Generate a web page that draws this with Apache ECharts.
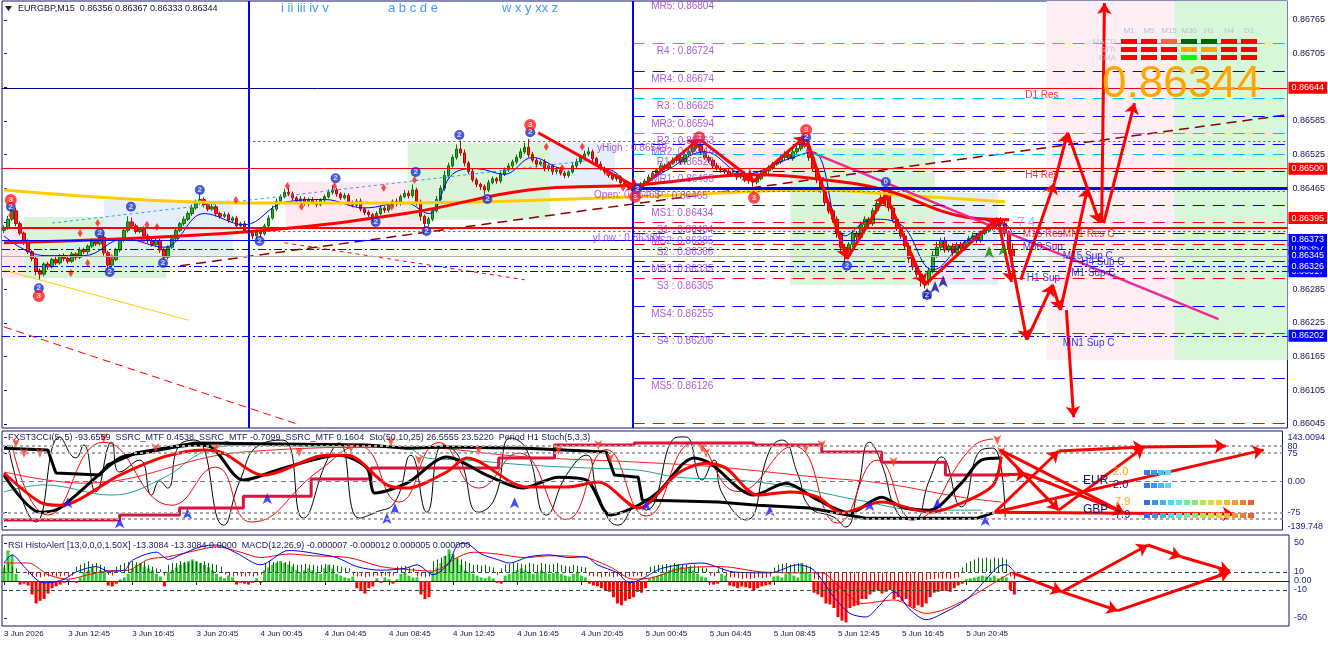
<!DOCTYPE html>
<html>
<head>
<meta charset="utf-8">
<title>EURGBP M15</title>
<script src="https://cdn.jsdelivr.net/npm/echarts@6.0.0/dist/echarts.min.js"></script>
<style>
  html, body { margin: 0; padding: 0; background: #fff; }
  #chart { width: 1328px; height: 646px; }
</style>
</head>
<body>
<div id="chart"></div>
<script>
// M15 bars starting 3 Jun 08:45, one row = 4 hours
const firstOpen = 0.86390;
const closes = [
  0.86395,0.86410,0.86425,0.86402,0.86385,0.86370,0.86352,0.86340,0.86318,0.86312,0.86330,0.86325,0.86338,0.86332,0.86345,0.86340,
  0.86335,0.86348,0.86342,0.86355,0.86352,0.86362,0.86370,0.86366,0.86378,0.86350,0.86328,0.86338,0.86355,0.86372,0.86390,0.86405,
  0.86398,0.86388,0.86392,0.86380,0.86372,0.86365,0.86372,0.86355,0.86342,0.86360,0.86375,0.86390,0.86402,0.86410,0.86420,0.86430,
  0.86440,0.86445,0.86436,0.86428,0.86432,0.86420,0.86415,0.86418,0.86408,0.86412,0.86398,0.86402,0.86390,0.86385,0.86380,0.86388,
  0.86384,0.86398,0.86412,0.86428,0.86442,0.86450,0.86458,0.86455,0.86448,0.86442,0.86446,0.86438,0.86445,0.86440,0.86436,0.86444,
  0.86450,0.86458,0.86462,0.86455,0.86448,0.86452,0.86440,0.86435,0.86442,0.86428,0.86422,0.86418,0.86412,0.86420,0.86430,0.86426,
  0.86435,0.86442,0.86438,0.86450,0.86456,0.86452,0.86462,0.86440,0.86415,0.86402,0.86410,0.86425,0.86445,0.86465,0.86488,0.86505,
  0.86520,0.86535,0.86528,0.86510,0.86495,0.86480,0.86472,0.86468,0.86462,0.86475,0.86482,0.86478,0.86490,0.86498,0.86505,0.86512,
  0.86520,0.86530,0.86538,0.86525,0.86515,0.86508,0.86512,0.86500,0.86505,0.86495,0.86498,0.86492,0.86488,0.86494,0.86505,0.86512,
  0.86520,0.86526,0.86530,0.86518,0.86508,0.86500,0.86495,0.86488,0.86482,0.86485,0.86475,0.86470,0.86466,0.86460,0.86465,0.86472,
  0.86478,0.86485,0.86492,0.86498,0.86505,0.86502,0.86510,0.86515,0.86520,0.86512,0.86525,0.86530,0.86538,0.86542,0.86530,0.86520,
  0.86515,0.86505,0.86500,0.86498,0.86495,0.86490,0.86492,0.86485,0.86488,0.86480,0.86478,0.86476,0.86482,0.86490,0.86496,0.86502,
  0.86508,0.86512,0.86520,0.86525,0.86518,0.86530,0.86536,0.86545,0.86540,0.86520,0.86500,0.86480,0.86462,0.86440,0.86425,0.86410,
  0.86385,0.86360,0.86345,0.86365,0.86385,0.86378,0.86400,0.86410,0.86402,0.86425,0.86438,0.86448,0.86455,0.86430,0.86410,0.86395,
  0.86380,0.86362,0.86340,0.86325,0.86312,0.86300,0.86298,0.86318,0.86345,0.86360,0.86372,0.86355,0.86362,0.86350,0.86365,0.86358,
  0.86368,0.86375,0.86380,0.86372,0.86385,0.86390,0.86395,0.86400,0.86408,0.86402,0.86385,0.86356,0.86344
];
// upper / lower wick length in points beyond the body
const wickHi = [
  4,6,10,5,4,3,4,3,5,4,3,4,3,5,3,4, 3,4,3,5,4,3,6,4,8,5,4,3,4,5,6,10,
  8,4,3,5,4,3,4,3,4,3,5,4,3,5,4,6, 5,10,4,3,5,4,3,5,4,3,4,3,5,4,3,4,
  3,4,5,6,5,4,6,8,4,3,5,4,3,4,5,3, 4,5,8,4,3,5,4,3,4,5,3,4,3,4,5,4,
  4,3,5,4,6,5,10,4,5,3,4,5,6,5,8,6, 5,8,15,6,4,5,4,3,4,5,4,3,5,4,5,4,
  5,6,8,15,5,4,3,5,4,3,4,5,4,3,5,6, 5,6,8,4,3,5,4,3,4,5,3,4,3,4,3,4,
  4,5,4,3,5,4,3,5,6,4,5,4,6,8,5,4, 4,3,5,4,3,4,5,3,4,3,4,3,5,4,3,4,
  4,3,5,6,4,5,6,8,15,4,3,5,4,6,5,4, 5,4,6,4,5,4,6,5,4,5,6,5,8,5,4,5,
  4,5,6,4,3,5,4,6,8,10,5,6,4,5,4,5, 4,5,6,4,5,6,5,4,5,6,8,5,11
];
const wickLo = [
  5,4,3,5,4,6,4,5,8,10,4,5,3,4,3,5, 4,3,5,3,4,5,3,4,3,5,8,4,3,4,3,4,
  5,4,3,4,5,4,3,5,8,4,3,4,3,4,3,4, 3,4,5,4,3,5,4,3,5,4,3,6,4,5,6,5,
  6,3,4,3,4,5,3,4,5,4,3,4,5,3,4,3, 4,3,4,5,4,3,5,4,3,4,5,4,8,4,3,5,
  4,3,5,4,3,5,4,6,8,12,5,4,3,4,5,4, 3,4,5,6,5,4,5,6,8,4,3,5,4,3,4,5,
  4,3,4,5,4,6,3,5,4,6,5,4,5,4,3,4, 4,3,4,5,4,3,5,4,3,5,4,3,4,5,8,4,
  3,4,5,4,3,5,4,3,4,5,4,3,4,3,5,4, 5,4,3,5,4,3,4,5,3,4,5,8,4,3,4,5,
  4,3,4,5,3,4,5,4,3,6,5,6,5,6,5,6, 8,10,15,6,5,8,4,5,6,4,5,4,3,6,5,6,
  5,6,8,6,5,10,12,6,5,4,6,5,4,5,6,4, 5,4,3,5,4,3,4,5,4,5,6,8,11
];

const timeTicks = ['3 Jun 2026','3 Jun 12:45','3 Jun 16:45','3 Jun 20:45','4 Jun 00:45','4 Jun 04:45',
  '4 Jun 08:45','4 Jun 12:45','4 Jun 16:45','4 Jun 20:45','5 Jun 00:45','5 Jun 04:45','5 Jun 08:45',
  '5 Jun 12:45','5 Jun 16:45','5 Jun 20:45'];
const timeTickBars = [0,16,32,48,64,80,96,112,128,144,160,176,192,208,224,240];
const priceTicks = [0.86045,0.86105,0.86165,0.86225,0.86285,0.86345,0.86405,0.86465,0.86525,0.86585,0.86645,0.86705,0.86765];
const sub1TickVals = [125.7, 100, 80, 0, -88.6, -105.7, -128.6];
const sub1TickText = ['143.0094', '80', '75', '0.00', '-75', '-80', '-139.748'];
const sub2TickVals = [42.2, 10, 0, -10, -41.1];
const sub2TickText = ['50', '10', '0.00', '-10', '-50'];

// daily pivots
const pivotNames = ['MR5','R4','MR4','R3','MR3','R2','MR2','R1','MR1','P','MS1','S1','MS2','S2','MS3','S3','MS4','S4','MS5','S5'];
const pivotPrices = [0.86804,0.86724,0.86674,0.86625,0.86594,0.86563,0.86544,0.86525,0.86495,0.86465,
  0.86434,0.86404,0.86385,0.86366,0.86335,0.86305,0.86255,0.86206,0.86126,0.86046];

// other horizontal lines: [price, colour, dash, width, fromBar, toBar]
const levels = [
  [0.86644, '#000080', 'solid', 1, -0.5, 157],
  [0.86644, '#ff0000', 'solid', 1, 157, 320.5],
  [0.86500, '#ff0000', 'solid', 1, -0.5, 320.5],
  [0.86549, '#555555', 'dot', 1, 61, 320.5],
  [0.86459, '#8b3a8b', 'dot', 1, 157, 320.5],
  [0.86395, '#ff0000', 'solid', 2, -0.5, 320.5],
  [0.86389, '#555555', 'dot', 1, 61, 320.5],
  [0.86373, '#0000ff', 'solid', 1, -0.5, 320.5],
  [0.86357, '#0000ff', 'dashdot', 1, -0.5, 320.5],
  [0.86344, '#b0b0b0', 'solid', 1, -0.5, 320.5],
  [0.86326, '#0000ff', 'dashdot', 1, -0.5, 320.5],
  [0.86317, '#0000ff', 'dashdot', 1, -0.5, 320.5],
  [0.86202, '#0000ff', 'dashdot', 1, -0.5, 320.5]
];
const daySeparators = [61, 157];

// price tags on the scale: [price, colour, price where the tag is shown (pushed up when crowded)]
const tags = [
  [0.86644, '#ff0000', 0.86644], [0.86500, '#ff0000', 0.86500], [0.86395, '#ff0000', 0.86412],
  [0.86357, '#0000ff', 0.86357], [0.86373, '#0000ff', 0.86373], [0.86345, '#0000ff', 0.86345],
  [0.86317, '#0000ff', 0.86317], [0.86326, '#0000ff', 0.86326], [0.86202, '#0000ff', 0.86202]
];

// shaded boxes: [fromBar, toBar, top, bottom, colour]
const zones = [
  [-0.5, 5, 0.86396, 0.86305, '#fde9ef'],
  [5, 40.6, 0.86414, 0.86305, '#d9f4d9'],
  [25, 57.1, 0.86444, 0.86343, '#e6eefa'],
  [70.3, 103.8, 0.86476, 0.86391, '#fde9ef'],
  [100.8, 136.4, 0.86546, 0.86409, '#d9f4d9'],
  [136.4, 152.6, 0.86546, 0.86467, '#e6eefa'],
  [173.8, 196.3, 0.86539, 0.86492, '#fde9ef'],
  [196.3, 232.5, 0.86537, 0.86293, '#d9f4d9'],
  [232.5, 248.2, 0.86457, 0.86293, '#e6eefa'],
  [260.4, 292.3, 0.867988, 0.86159, '#ffeef3'],
  [292.3, 320.5, 0.867988, 0.86159, '#d8f7d8']
];

// moving averages / trend lines on the price chart: [bar, price]
const maYellow = [[0,0.86462],[60,0.86439],[101,0.86439],[158,0.86450],[204,0.86462],[224,0.86453],[250,0.86441]];
const maRed = [[0,0.86368],[60,0.86387],[101,0.86421],[131,0.86462],[158,0.86471],[187,0.86489],[205,0.86480],[220,0.86462],[240,0.86414],[251,0.86409]];
const maBlue = [[0,0.86380],[10,0.86345],[20,0.86345],[30,0.86375],[40,0.86360],[50,0.86420],[60,0.86400],[70,0.86440],
  [80,0.86445],[90,0.86430],[100,0.86440],[106,0.86420],[112,0.86490],[118,0.86500],[125,0.86490],[132,0.86520],
  [140,0.86500],[150,0.86500],[158,0.86470],[165,0.86495],[175,0.86530],[185,0.86490],[195,0.86515],[202,0.86530],
  [210,0.86380],[217,0.86410],[224,0.86400],[232,0.86320],[240,0.86370],[250,0.86400],[252,0.86380]];
const trendBrown = [[44,0.86327],[320.5,0.86596]];
const trendPink = [[200.3,0.86533],[303.3,0.86232]];
const trendRedDash = [[0,0.86218],[74,0.86043]];
const trendYellow = [[0,0.86319],[46,0.86230]];
const trendRedShort = [[70,0.86368],[130,0.86302]];
const trendBlueDot = [[12,0.86403],[146.6,0.86515]];

// fractal marks above highs
const fractals = [[1.7,0.86417],[19,0.86385],[23.4,0.86403],[31.7,0.86400],[35.7,0.86400],[38.2,0.86396],[34.7,0.86373],
  [20.9,0.86332],[26.9,0.86341],[16.7,0.86314],[57.9,0.86444],[70.8,0.86469],[74.3,0.86432],[82.5,0.86469],[94.8,0.86466],
  [96.8,0.86432],[102.5,0.86480],[135.4,0.86539],[144.4,0.86539],[139.4,0.86501],[150.6,0.86494],[154.6,0.86466]];

// zigzag and projected wave arrows
const zigzag = [[133.4,0.86564],[158.6,0.86464],[173.6,0.86553],[187.3,0.86478],[200.2,0.86558],[210.5,0.86339],[220.2,0.86453],[229.9,0.86293],[248.1,0.86412]];
const projMain = [
  [[248.1,0.86412],[251.6,0.86298]], [[253.9,0.86302],[262.3,0.86475]], [[262.3,0.86475],[265.6,0.86564]],
  [[265.6,0.86564],[273.6,0.86403]], [[274.1,0.86403],[274.8,0.86795]], [[274.6,0.86403],[282.3,0.86617]],
  [[250.6,0.86373],[255.4,0.86195]], [[255.4,0.86195],[261.8,0.86293]], [[261.8,0.86293],[263.8,0.86248]],
  [[263.8,0.86248],[270.6,0.86466]], [[265.3,0.86248],[267.1,0.86057]]
];
const waveMarks = [
  [1.7,0.86432,'2'],[8.7,0.86287,'2'],[23.9,0.86385,'2'],[26.4,0.86316,'2'],[31.7,0.86432,'2'],[39.7,0.86332,'2'],
  [48.9,0.86462,'2'],[63.8,0.86371,'2'],[82.8,0.86483,'2'],[92.8,0.86405,'2'],[102.8,0.86494,'2'],[105.5,0.86389,'2'],
  [113.7,0.86560,'2'],[120.7,0.86446,'2'],[131.4,0.86565,'2'],[158.1,0.86464,'2'],[200.3,0.86556,'2'],[210.5,0.86327,'2'],
  [220.2,0.86476,'0'],[230.5,0.86275,'2'],
  [1.7,0.86444,'3'],[8.7,0.86273,'3'],[131.4,0.86578,'3'],[157.6,0.86450,'3'],[173.6,0.86556,'3'],[187.3,0.86448,'3'],[200.3,0.86569,'3']
];
const srLabels = [
  [255, 0.86644, 'D1 Res', '#ff0000'], [255, 0.86500, 'H4 Res', '#ff0000'],
  [254.4, 0.86395, 'M15 Res', '#ff0000'], [264.4, 0.86395, 'MN1 Res C', '#ff0000'],
  [254.4, 0.86373, 'M30 Sup', '#0000ff'], [264.4, 0.86357, 'M15 Sup C', '#0000ff'],
  [269, 0.86345, 'H4 Sup C', '#0000ff'], [266.5, 0.86326, 'M1 Sup C', '#0000ff'],
  [255.4, 0.86317, 'H1 Sup', '#0000ff'], [264.4, 0.86202, 'MN1 Sup C', '#0000ff'],
  [148.1, 0.86549, 'yHigh : 0.86549', '#9933cc'], [147.3, 0.86465, 'Open: 0.86465', '#9933cc'],
  [147, 0.86389, 'yLow : 0.86389', '#9933cc']
];
const mainUpArrows = [[230.5,0.86288,'#0a0aa0'],[232.5,0.86300,'#0a0aa0'],[234.5,0.86310,'#0a0aa0'],[246,0.86362,'#0a8a0a'],[249.5,0.86366,'#0a8a0a']];

// FXST3CCI / SSRC / Stoch window: [bar, value]
const crimsonStep = [[0,-111],[29,-97],[44,-77],[60,-43],[77,6],[92,37],[124,66],[138,103],[158,109],[188,103],[205,83],[220,54],[236,17],[252,17]];
const blackThick = [[0,17],[9,-89],[14,-77],[29,66],[35,80],[48,103],[52,97],[60,3],[70,37],[84,74],[91,37],[93,-34],[101,-6],[111,69],
  [121,17],[130,-20],[139,11],[146,3],[152,-97],[159,-69],[164,-31],[173,66],[177,51],[188,-40],[196,-6],[204,-54],[212,-91],
  [220,-46],[225,-74],[232,-83],[240,-6],[245,60],[250,66]];
const blackStep = [[0,94],[11,89],[13,23],[24,17],[26,46],[33,80],[48,109],[91,103],[101,94],[111,97],[131,94],[151,83],[153,17],
  [159,11],[160,-54],[179,-60],[189,-69],[202,-77],[216,-106],[244,-106],[248,-91]];
const redThick = [[0,23],[9,-60],[14,-69],[29,17],[40,69],[50,89],[55,80],[65,17],[81,74],[86,74],[96,-11],[101,-20],[111,26],[116,66],
  [131,-17],[141,-17],[149,-3],[159,-77],[169,23],[176,51],[181,37],[189,-40],[197,-31],[204,-46],[210,-91],[220,-60],[232,-89],
  [240,-63],[248,-11],[250,69]];
const thinBlack = [[1,103],[8,-117],[14,126],[18,66],[20,103],[23,-31],[27,111],[29,26],[34,60],[37,-40],[39,0],[41,-20],[44,103],
  [48,117],[55,-126],[59,-3],[64,103],[70,117],[75,-106],[81,60],[84,109],[89,-106],[93,-90],[98,-60],[102,74],[106,-89],[110,103],
  [114,70],[119,-89],[123,-50],[127,123],[131,90],[136,-97],[141,17],[146,74],[149,-40],[154,-126],[159,-69],[161,-83],[169,126],
  [171,126],[175,3],[178,60],[180,-34],[186,-111],[192,89],[195,117],[199,20],[202,-74],[208,-103],[211,-131],[214,-26],[217,111],
  [220,50],[224,-91],[228,-111],[232,3],[235,69],[240,-74],[245,89],[248,94],[251,-103]];
const thinRed = [[2,103],[11,-97],[25,111],[42,-69],[53,40],[62,-117],[79,30],[89,100],[99,-60],[109,110],[119,-20],[129,80],
  [141,-110],[151,90],[161,-100],[173,110],[184,-30],[198,100],[209,-120],[219,60],[228,-110],[243,100],[248,120]];
const teal = [[0,-31],[10,-11],[27,-40],[40,9],[50,83],[60,103],[81,97],[101,94],[106,66],[116,60],[131,46],[147,37],[159,31],
  [169,11],[184,3],[199,-20],[214,-54],[230,-83],[245,-83]];
const redLong = [[0,26],[20,-6],[60,83],[101,97],[131,69],[159,54],[179,40],[204,11],[220,-6],[240,-46],[250,-60]];
const blueUp = [[16,-46],[29,-103],[46,-77],[66,-34],[96,-91],[98,-63],[128,-46],[161,-54],[192,-69],[217,-54],[234,-49],[246,-97]];
const redDown = [[3,94],[5,66],[9,66],[25,109],[38,80],[53,80],[74,69],[87,80],[97,97],[104,46],[119,74],[139,74],[149,89],[152,51],
  [175,80],[176,66],[201,80],[205,89],[223,40],[249,103],[250,69]];
const sub1Levels = [100, 80, -91, -108];
const projSub1 = [
  [[249.7,89],[264.4,-83]], [[249.7,89],[280.8,-91]], [[248.4,-89],[264.4,86]], [[264.4,86],[285.8,97]],
  [[285.8,97],[306.3,100]], [[248.4,-89],[308.3,-94]], [[248.4,-89],[315.8,89]], [[248.4,17],[256.4,20]],
  [[256.4,20],[280.8,-91]], [[264.4,-83],[285.8,97]]
];

// RSI HistoAlert / MACD window
const histo = [
  15,34,29,8,-4,-3,-5,-15,-25,-22,-20,-14,-8,-6,-4,-2,
  2,0,-2,4,10,12,15,8,12,10,-5,-6,-3,2,4,8,
  14,18,20,16,14,12,8,5,-6,10,12,15,18,20,22,24,
  22,20,18,15,12,8,5,3,6,4,-4,-2,-3,-4,-2,3,
  -2,12,15,18,20,22,20,18,16,12,10,12,14,12,10,8,
  14,18,14,8,6,4,3,5,-8,-10,-14,-8,-6,3,-2,4,
  2,-3,2,8,10,6,4,4,-15,-20,-18,10,15,20,28,35,
  30,25,18,12,10,8,6,4,3,5,3,-2,-3,6,8,10,
  12,14,12,10,8,10,12,10,8,9,10,8,6,5,8,10,
  6,4,-3,-5,-6,-8,-10,-12,-18,-25,-27,-22,-20,-18,-12,-13,
  -8,3,5,6,8,10,12,14,18,16,14,15,12,8,5,4,
  -2,-4,-3,8,6,-5,-6,-8,-6,-7,-8,-10,-8,-6,-5,-4,
  5,6,4,8,10,6,4,20,10,8,-13,-15,-18,-25,-26,-30,
  -40,-44,-46,-30,-28,-27,-20,-20,-15,-12,-10,-14,-12,-10,-20,-18,
  -22,-20,-28,-30,-27,-29,-25,-18,-13,-12,-10,-11,-12,-8,-5,-3,
  2,3,4,5,6,5,4,6,3,5,4,-10,-15
];
// thin alert bars hanging from the +10 level (up = green, down = red)
const thinHisto = [
  8,10,6,4,0,0,-3,-5,-5,-6,-5,-5,-4,-5,-5,-4,
  -5,-4,6,8,10,12,9,10,8,6,-3,-4,6,8,10,11,
  12,11,10,12,8,6,4,3,-4,8,10,10,12,11,10,12,
  11,10,12,10,9,8,6,-3,-5,-5,-4,-5,-5,-4,-5,-4,
  -3,10,12,11,12,10,11,12,9,8,8,9,8,8,7,8,
  9,8,8,7,6,5,4,-4,-5,-5,-6,-5,-5,-4,-5,-4,
  -5,-4,6,6,7,5,4,-5,-5,-6,-5,12,14,16,18,20,
  18,16,14,12,10,8,8,7,8,6,5,-3,4,8,9,10,
  10,9,8,10,9,8,10,9,8,9,10,8,7,6,8,7,
  6,5,-4,-5,-5,-6,-5,-5,-6,-5,-5,-6,-5,-5,-4,-5,
  -4,6,7,8,8,9,8,10,9,8,8,7,8,6,5,4,
  -4,-5,4,5,-5,-6,-6,-7,-8,-7,-8,-7,-6,-7,-6,-5,
  5,8,9,10,8,9,10,9,8,6,-8,-9,-10,-11,-10,-11,
  -11,-10,-11,-10,-11,-10,-11,-10,-11,-10,-11,-10,-11,-10,-11,-10,
  -11,-10,-11,-10,-11,-10,-9,-8,-8,-7,-8,-7,-8,-7,-6,5,
  10,12,14,16,15,16,14,16,15,16,14,-5,-8
];
const rsiBlue = [[0,20],[2,29],[5,16],[9,-1],[11,-2],[15,2],[18,10],[23,16],[26,11],[30,12],[32,23],[38,32],[41,24],[44,29],
  [49,38],[53,40],[58,31],[64,18],[71,34],[74,33],[77,31],[83,26],[88,16],[94,12],[100,14],[103,18],[107,7],[111,20],[113,40],
  [115,42],[119,30],[123,24],[126,20],[131,27],[136,29],[141,26],[145,27],[148,18],[153,9],[156,-2],[159,2],[164,14],[174,20],
  [182,10],[191,9],[198,18],[202,12],[207,-18],[211,-36],[215,-40],[218,-29],[222,-12],[226,-32],[230,-43],[235,-34],[240,-21],
  [244,-3],[248,16],[250,18],[252,10]];
const rsiRed = [[0,20],[6,20],[11,7],[16,2],[21,7],[26,11],[31,12],[36,24],[41,27],[48,34],[53,38],[59,32],[64,26],[71,30],[77,28],
  [86,26],[94,16],[100,13],[107,11],[113,26],[117,32],[123,30],[130,26],[136,28],[144,27],[151,16],[157,2],[162,4],[169,14],
  [179,16],[189,10],[200,9],[204,9],[208,-5],[214,-25],[222,-21],[230,-36],[236,-29],[244,-10],[251,9]];
const sub2Levels = [10, -10];
const projSub2 = [
  [[251.6,9],[263.9,-12]], [[263.9,-12],[285.3,40]], [[285.3,40],[293.6,27]],
  [[293.6,27],[305.8,11]], [[263.9,-12],[277.8,-33]], [[277.8,-33],[305.8,10]]
];

// multi timeframe panel
const mtfFrames = ['M1','M5','M15','M30','H1','H4','D1'];
const mtfRows = ['MACD','STR','EMA'];
const mtfColors = [
  ['#ff0000','#ff0000','#ff6347','#006400','#006400','#ff0000','#ff0000'],
  ['#ff0000','#ff0000','#ff0000','#ffa500','#ffa500','#ff0000','#ff0000'],
  ['#ff0000','#ff0000','#ff0000','#00ff00','#ff0000','#ff0000','#ff0000']
];
const strengthShort = ['#2f7df6','#3a96f7','#49bdf9','#5ad9fa'];
const strengthLong = ['#2f6ff6','#3590f7','#3fb6f8','#46dcf5','#4ef2d6','#62f2a2','#84ef6e','#aee84e','#d2e03e',
  '#ecd236','#f7b833','#f99a30','#f67c2e','#f0602c'];

// ---------------------------------------------------------------
const FONT = '"Liberation Sans", Arial, sans-serif';
const NAVY = '#14146e';
const SLOTS = 321;
const cats = Array.from({ length: SLOTS }, (_, i) => String(i));

const candles = closes.map((c, i) => {
  const o = i === 0 ? firstOpen : closes[i - 1];
  return [o, c, Math.min(o, c) - wickLo[i] / 1e5, Math.max(o, c) + wickHi[i] / 1e5];
});

const dashes = { solid: 'solid', dash: [12, 8], dot: [2, 3], dashdot: [8, 3, 2, 3] };
const levelLines = levels.map(l => [
  { coord: [l[4], l[0]], lineStyle: { color: l[1], type: dashes[l[2]], width: l[3] } },
  { coord: [l[5], l[0]] }
]);
pivotNames.forEach((n, k) => {
  let color = '#0000ff', type = [12, 8], width = 1;
  if (n[0] === 'R') color = '#00bfff';
  if (n[0] === 'S') color = '#ff0000';
  if (n === 'P') { type = 'solid'; width = 3; }
  if (pivotPrices[k] < 0.867988) {
    levelLines.push([{ coord: [157, pivotPrices[k]], lineStyle: { color, type, width } }, { coord: [320.5, pivotPrices[k]] }]);
  }
});
daySeparators.forEach(b => levelLines.push({ xAxis: b, lineStyle: { color: '#0000ff', width: 2, type: 'solid' } }));

const pivotLabels = pivotNames.filter(n => n !== 'S5').map(n => {
  const p = pivotPrices[pivotNames.indexOf(n)];
  const txt = (n.length === 3 ? n + ': ' : '  ' + n + ' : ') + p.toFixed(5);
  return { value: [161.6, p], name: txt };
});

const segs = list => list.map(s => [{ coord: s[0] }, { coord: s[1] }]);
const zigSegs = zigzag.slice(1).map((p, k) => [{ coord: zigzag[k] }, { coord: p }]);

function pickTick(vals, texts) {
  return v => {
    let best = 0;
    vals.forEach((t, k) => { if (Math.abs(t - v) < Math.abs(vals[best] - v)) best = k; });
    return texts[best];
  };
}

function thinLine(data, color, width, extra) {
  return Object.assign({
    type: 'line', xAxisIndex: 2, yAxisIndex: 1, data, showSymbol: false, silent: true,
    lineStyle: { color, width }
  }, extra || {});
}

const graphics = [];
graphics.push({ type: 'polygon', shape: { points: [[5, 6], [12, 6], [8.5, 11]] }, style: { fill: '#202030' }, z: 100 });
graphics.push({ type: 'text', x: 18, y: 9, z: 100, style: { text: 'EURGBP,M15  0.86356 0.86367 0.86333 0.86344', font: '9px ' + FONT, fill: '#141430', verticalAlign: 'middle' } });
[['i ii iii iv v', 281], ['a b c d e', 388], ['w x y xx z', 502]].forEach(t => {
  graphics.push({ type: 'text', x: t[1], y: 8, z: 100, style: { text: t[0], font: '13px ' + FONT, fill: '#3f9bff', verticalAlign: 'middle' } });
});
graphics.push({ type: 'text', x: 8, y: 438, z: 100, style: { text: 'FXST3CCI(5, 5) -93.6559  SSRC_MTF 0.4538  SSRC_MTF -0.7099  SSRC_MTF 0.1604  Sto(50,10,25) 26.5555 23.5220  Period H1 Stoch(5,3,3)', font: '9px ' + FONT, fill: '#1c1c60', verticalAlign: 'middle' } });
graphics.push({ type: 'text', x: 8, y: 546, z: 100, style: { text: 'RSI HistoAlert [13,0,0,0,1.50X] -13.3084 -13.3084 0.0000  MACD(12,26,9) -0.000007 -0.000012 0.000005 0.000000', font: '9px ' + FONT, fill: '#1c1c60', verticalAlign: 'middle' } });
// big price
graphics.push({ type: 'text', x: 1102, y: 85, z: 100, style: { text: '0.86344', font: '44px ' + FONT, fill: '#ffa500', verticalAlign: 'middle' } });
// MTF table
mtfFrames.forEach((f, c) => {
  graphics.push({ type: 'text', x: 1129 + 20 * c, y: 31, z: 100, style: { text: f, font: '8px ' + FONT, fill: '#b4bfd6', align: 'center', verticalAlign: 'middle' } });
  mtfRows.forEach((r, k) => {
    graphics.push({ type: 'rect', z: 100, shape: { x: 1121 + 20 * c, y: 39 + 8 * k, width: 16, height: 5 }, style: { fill: mtfColors[k][c] } });
  });
});
mtfRows.forEach((r, k) => {
  graphics.push({ type: 'text', x: 1116, y: 41.5 + 8 * k, z: 100, style: { text: r, font: '8px ' + FONT, fill: '#c2c8d6', align: 'right', verticalAlign: 'middle' } });
});
// currency strength
[['EUR', 1083, 481, NAVY, 12], ['GBP', 1083, 510, NAVY, 12], ['2.0', 1113, 472, '#ffa500', 11], ['2.0', 1113, 485, NAVY, 11],
 ['7.9', 1115, 502, '#ffa500', 11], ['7.9', 1115, 515, NAVY, 11]].forEach(t => {
  graphics.push({ type: 'text', x: t[1], y: t[2], z: 100, style: { text: t[0], font: t[4] + 'px ' + FONT, fill: t[3], verticalAlign: 'middle' } });
});
[470, 483].forEach(y => strengthShort.forEach((col, k) => {
  graphics.push({ type: 'rect', z: 100, shape: { x: 1144 + 7 * k, y, width: 6, height: 5 }, style: { fill: col } });
}));
[500, 513].forEach(y => strengthLong.forEach((col, k) => {
  graphics.push({ type: 'rect', z: 100, shape: { x: 1144 + 8 * k, y, width: 6, height: 5 }, style: { fill: col } });
}));

const yLabelBase = { fontSize: 9, margin: 5, fontFamily: FONT, showMinLabel: true, showMaxLabel: true };
const option = {
  animation: false,
  backgroundColor: '#ffffff',
  textStyle: { fontFamily: FONT },
  grid: [
    { left: 2, top: 1, width: 1287, height: 427, show: true, borderColor: NAVY, borderWidth: 1 },
    { left: 2, top: 431, width: 1287, height: 99, show: true, borderColor: NAVY, borderWidth: 1 },
    { left: 2, top: 535, width: 1287, height: 91, show: true, borderColor: NAVY, borderWidth: 1 }
  ],
  xAxis: [
    { type: 'category', gridIndex: 0, data: cats, boundaryGap: true, show: false },
    { type: 'value', gridIndex: 0, min: -0.5, max: 320.5, show: false },
    { type: 'value', gridIndex: 1, min: -0.5, max: 320.5, show: false },
    {
      type: 'value', gridIndex: 2, min: -0.5, max: 320.5,
      axisLine: { show: true, lineStyle: { color: NAVY } },
      axisTick: { show: true, customValues: timeTickBars, length: 4, lineStyle: { color: NAVY } },
      axisLabel: { customValues: timeTickBars, formatter: pickTick(timeTickBars, timeTicks), align: 'left', fontSize: 8, color: '#141450', margin: 4, fontFamily: FONT, showMinLabel: true, showMaxLabel: true },
      splitLine: { show: false }
    }
  ],
  yAxis: [
    {
      type: 'value', gridIndex: 0, position: 'right', min: 0.860378, max: 0.867988,
      axisLine: { show: false }, splitLine: { show: false },
      axisTick: { show: true, customValues: priceTicks, length: 3, lineStyle: { color: NAVY } },
      axisLabel: Object.assign({ customValues: priceTicks, formatter: v => v.toFixed(5), color: '#141450' }, yLabelBase)
    },
    {
      type: 'value', gridIndex: 1, position: 'right', min: -139.748, max: 143.0094,
      axisLine: { show: false }, splitLine: { show: false },
      axisTick: { show: true, customValues: sub1TickVals, length: 3, lineStyle: { color: NAVY } },
      axisLabel: Object.assign({ customValues: sub1TickVals, formatter: pickTick(sub1TickVals, sub1TickText), color: '#23238a' }, yLabelBase)
    },
    {
      type: 'value', gridIndex: 2, position: 'right', min: -50, max: 51.1,
      axisLine: { show: false }, splitLine: { show: false },
      axisTick: { show: true, customValues: sub2TickVals, length: 3, lineStyle: { color: NAVY } },
      axisLabel: Object.assign({ customValues: sub2TickVals, formatter: pickTick(sub2TickVals, sub2TickText), color: '#23238a' }, yLabelBase)
    }
  ],
  series: [
    // background boxes + horizontal levels
    {
      type: 'line', xAxisIndex: 1, yAxisIndex: 0, data: [], silent: true,
      markArea: { silent: true, data: zones.map(z => [{ coord: [z[0], z[2]], itemStyle: { color: z[4] } }, { coord: [z[1], z[3]] }]) },
      markLine: { silent: true, symbol: 'none', precision: 6, label: { show: false }, data: levelLines }
    },
    {
      type: 'candlestick', xAxisIndex: 0, yAxisIndex: 0, data: candles, barWidth: 3, silent: true,
      itemStyle: { color: '#1fb21f', color0: '#ff1a1a', borderColor: '#0b6b0b', borderColor0: '#c00000', borderWidth: 1 }
    },
    { type: 'line', xAxisIndex: 1, yAxisIndex: 0, data: trendYellow, showSymbol: false, silent: true, lineStyle: { color: '#ffcc00', width: 1 } },
    { type: 'line', xAxisIndex: 1, yAxisIndex: 0, data: trendRedDash, showSymbol: false, silent: true, lineStyle: { color: '#ff0000', width: 1, type: [8, 5] } },
    { type: 'line', xAxisIndex: 1, yAxisIndex: 0, data: trendRedShort, showSymbol: false, silent: true, lineStyle: { color: '#ff0000', width: 1, type: [4, 4] } },
    { type: 'line', xAxisIndex: 1, yAxisIndex: 0, data: trendBlueDot, showSymbol: false, silent: true, lineStyle: { color: '#3399ff', width: 1, type: [3, 3] } },
    { type: 'line', xAxisIndex: 1, yAxisIndex: 0, data: trendBrown, showSymbol: false, silent: true, lineStyle: { color: '#8b0000', width: 1.5, type: [10, 6] } },
    { type: 'line', xAxisIndex: 1, yAxisIndex: 0, data: maBlue, showSymbol: false, silent: true, smooth: 0.4, lineStyle: { color: '#0000ff', width: 1 } },
    { type: 'line', xAxisIndex: 1, yAxisIndex: 0, data: maYellow, showSymbol: false, silent: true, smooth: 0.4, lineStyle: { color: '#ffcc00', width: 3 } },
    { type: 'line', xAxisIndex: 1, yAxisIndex: 0, data: maRed, showSymbol: false, silent: true, smooth: 0.4, lineStyle: { color: '#ff0000', width: 3 } },
    { type: 'line', xAxisIndex: 1, yAxisIndex: 0, data: trendPink, showSymbol: false, silent: true, lineStyle: { color: '#ee2a9a', width: 2.5 } },
    {
      type: 'scatter', xAxisIndex: 1, yAxisIndex: 0, silent: true, z: 4, symbol: 'diamond', symbolSize: [5, 8],
      data: fractals, itemStyle: { color: '#ff1a1a' }
    },
    // zigzag + projections
    {
      type: 'line', xAxisIndex: 1, yAxisIndex: 0, data: [], silent: true,
      markLine: {
        silent: true, symbol: ['none', 'arrow'], symbolSize: 11, precision: 6, label: { show: false },
        lineStyle: { color: '#ff0000', width: 3, type: 'solid' },
        data: zigSegs.concat(segs(projMain))
      }
    },
    {
      type: 'scatter', xAxisIndex: 1, yAxisIndex: 0, silent: true, z: 6,
      data: waveMarks.map(w => ({
        value: [w[0], w[1]], name: w[2], symbolSize: w[2] === '3' ? 12 : 10,
        itemStyle: { color: w[2] === '3' ? '#ff1a1a' : '#1a2fd0' }
      })),
      label: { show: true, position: 'inside', formatter: '{b}', color: '#fff', fontSize: 8, fontWeight: 'bold' }
    },
    {
      type: 'scatter', xAxisIndex: 1, yAxisIndex: 0, silent: true, z: 6, symbol: 'arrow',
      data: mainUpArrows.map(a => ({ value: [a[0], a[1]], itemStyle: { color: a[2] } })), symbolSize: [7, 12]
    },
    {
      type: 'scatter', xAxisIndex: 1, yAxisIndex: 0, silent: true, clip: false, symbolSize: 0, z: 7,
      data: pivotLabels,
      label: { show: true, position: 'right', distance: 0, offset: [0, 8], formatter: '{b}', color: '#9933cc', fontSize: 10 }
    },
    {
      type: 'scatter', xAxisIndex: 1, yAxisIndex: 0, silent: true, clip: false, symbolSize: 0, z: 7,
      data: srLabels.map(s => ({ value: [s[0], s[1]], name: s[2], label: { color: s[3] } })),
      label: { show: true, position: 'right', distance: 0, offset: [0, 7], formatter: '{b}', fontSize: 10 }
    },
    {
      type: 'scatter', xAxisIndex: 1, yAxisIndex: 0, silent: true, clip: false, symbolSize: 0, z: 7,
      data: [{ value: [253, 0.86405], name: '7 4' }],
      label: { show: true, position: 'right', distance: 0, formatter: '{b}', color: '#66aaff', fontSize: 13 }
    },
    // price tags (outside the plot, so no clipping)
    {
      type: 'line', xAxisIndex: 1, yAxisIndex: 0, data: [], silent: true, clip: false, z: 20,
      markLine: {
        silent: true, symbol: 'none', precision: 6, z: 20,
        lineStyle: { color: 'rgba(0,0,0,0)', width: 0 },
        label: { show: true, position: 'end', distance: 1, formatter: '{b}', color: '#ffffff', fontSize: 9, padding: [2, 3, 1, 3] },
        data: tags.map(t => ({ yAxis: t[2], name: t[0].toFixed(5), label: { backgroundColor: t[1] } }))
      }
    },

    // ---- FXST3CCI window ----
    {
      type: 'line', xAxisIndex: 2, yAxisIndex: 1, data: [], silent: true,
      markLine: {
        silent: true, symbol: 'none', label: { show: false },
        data: sub1Levels.map(v => ({ yAxis: v, lineStyle: { color: '#a8a8a8', width: 2, type: [3, 3] } }))
          .concat([{ yAxis: 0, lineStyle: { color: '#6c7a8a', width: 1, type: [5, 4] } }])
      }
    },
    thinLine(thinBlack, '#000000', 1, { smooth: 0.5 }),
    thinLine(thinRed, '#ff0000', 1, { smooth: 0.5 }),
    thinLine(teal, '#20a090', 1, { smooth: 0.4 }),
    thinLine(redLong, '#ff2020', 1, { smooth: 0.4 }),
    thinLine(crimsonStep, '#dc143c', 3, { step: 'end' }),
    thinLine(blackStep, '#000000', 3, {}),
    thinLine(blackThick, '#000000', 3, { smooth: 0.3 }),
    thinLine(redThick, '#ff0000', 3, { smooth: 0.3 }),
    {
      type: 'scatter', xAxisIndex: 2, yAxisIndex: 1, silent: true, symbol: 'arrow', symbolSize: [7, 11],
      data: blueUp, itemStyle: { color: '#1a1aff' }, z: 4
    },
    {
      type: 'scatter', xAxisIndex: 2, yAxisIndex: 1, silent: true, symbol: 'arrow', symbolSize: [6, 10], symbolRotate: 180,
      data: redDown, itemStyle: { color: '#ff3a1a' }, z: 4
    },
    {
      type: 'line', xAxisIndex: 2, yAxisIndex: 1, data: [], silent: true,
      markLine: {
        silent: true, symbol: ['none', 'arrow'], symbolSize: 11, label: { show: false },
        lineStyle: { color: '#ff0000', width: 3, type: 'solid' }, data: segs(projSub1)
      }
    },

    // ---- RSI HistoAlert / MACD window ----
    {
      type: 'line', xAxisIndex: 3, yAxisIndex: 2, data: [], silent: true,
      markLine: {
        silent: true, symbol: 'none', label: { show: false },
        data: sub2Levels.map(v => ({ yAxis: v, lineStyle: { color: '#2f4f4f', width: 1, type: [4, 3] } }))
      }
    },
    {
      type: 'bar', xAxisIndex: 3, yAxisIndex: 2, silent: true, barWidth: 3,
      data: histo.map((v, i) => [i, v]),
      itemStyle: { color: p => (p.value[1] >= 0 ? '#33cc33' : '#ff0000') }
    },
    {
      type: 'custom', xAxisIndex: 3, yAxisIndex: 2, silent: true, z: 3,
      data: thinHisto.map((v, i) => [i, v]),
      renderItem: (params, api) => {
        const v = api.value(1);
        const a = api.coord([api.value(0), 10]);
        const b = api.coord([api.value(0), 10 + v]);
        return {
          type: 'line', shape: { x1: Math.round(a[0]) + 0.5, y1: a[1], x2: Math.round(a[0]) + 0.5, y2: b[1] },
          style: { stroke: v >= 0 ? '#007000' : '#ff0000', lineWidth: 1 }
        };
      }
    },
    { type: 'line', xAxisIndex: 3, yAxisIndex: 2, data: rsiRed, showSymbol: false, silent: true, smooth: 0.3, lineStyle: { color: '#ff0000', width: 1 } },
    { type: 'line', xAxisIndex: 3, yAxisIndex: 2, data: rsiBlue, showSymbol: false, silent: true, smooth: 0.3, lineStyle: { color: '#0000ff', width: 1 } },
    {
      type: 'line', xAxisIndex: 3, yAxisIndex: 2, data: [], silent: true,
      markLine: {
        silent: true, symbol: ['none', 'arrow'], symbolSize: 11, label: { show: false },
        lineStyle: { color: '#ff0000', width: 3, type: 'solid' }, data: segs(projSub2)
      }
    }
  ],
  graphic: graphics
};

const chart = echarts.init(document.getElementById('chart'));
chart.setOption(option);
</script>
</body>
</html>
